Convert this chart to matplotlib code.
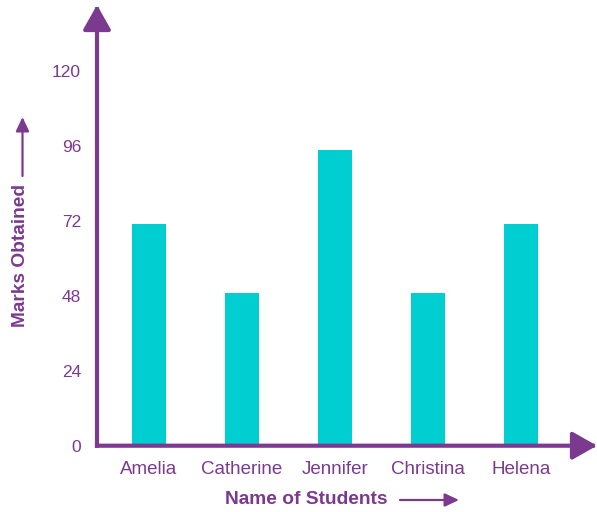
import matplotlib
matplotlib.use('Agg')
from matplotlib import pyplot as plt

students = ['Amelia', 'Catherine', 'Jennifer', 'Christina', 'Helena']
marks = [71, 49, 94.5, 49, 71]
yticks = [0, 24, 48, 72, 96, 120]

purple = '#7B3A90'
teal = '#00CED1'

plt.rcParams['font.family'] = ['Liberation Sans', 'DejaVu Sans']

W, H = 597, 512
ox, oy = 97, 445.7          # origin of the axes in pixels
px_per_unit = 75 / 24       # y scale
px_per_bar = 93.1           # x spacing between bars
first_bar = 148.7

fig = plt.figure(figsize=(W / 100, H / 100), dpi=100)
ax = fig.add_axes([ox / W, (H - oy) / H, (W - ox) / W, (oy - 5) / H])

xs = list(range(len(students)))
ax.bar(xs, marks, width=34 / px_per_bar, color=teal, zorder=2)

left = -(first_bar - ox) / px_per_bar
ax.set_xlim(left, left + (W - ox) / px_per_bar)
ax.set_ylim(0, (oy - 5) / px_per_unit)

for s in ax.spines.values():
    s.set_visible(False)

ax.set_xticks(xs)
ax.set_xticklabels(students, fontsize=13.5, color=purple)
ax.set_yticks(yticks)
ax.set_yticklabels([str(v) for v in yticks], fontsize=12.5, color=purple)
ax.tick_params(axis='x', length=0, pad=11)
ax.tick_params(axis='y', length=0, pad=11.5)

# axis arrows
arrow_kw = dict(arrowstyle='-|>,head_length=15,head_width=8.5', mutation_scale=1,
                lw=3, color=purple, shrinkA=0, shrinkB=0, capstyle='projecting')
ax.annotate('', xy=(0, 1), xytext=(0, 0), xycoords='axes fraction',
            textcoords='axes fraction', arrowprops=arrow_kw, annotation_clip=False)
ax.annotate('', xy=(1, 0), xytext=(0, 0), xycoords='axes fraction',
            textcoords='axes fraction', arrowprops=arrow_kw, annotation_clip=False)

# axis titles with small arrows
fig.text(306.5 / W, 1 - 500 / H, 'Name of Students', fontsize=13.8, fontweight='bold',
         color=purple, ha='center', va='center')
small_kw = dict(arrowstyle='-|>,head_length=8.5,head_width=4', mutation_scale=1,
                lw=1.6, color=purple, shrinkA=0, shrinkB=0)
fig.add_artist(matplotlib.patches.FancyArrowPatch(
    (400 / W, 1 - 500 / H), (459 / W, 1 - 500 / H), transform=fig.transFigure, **small_kw))

fig.text(21 / W, 1 - 255.5 / H, 'Marks Obtained', fontsize=13.8, fontweight='bold',
         color=purple, ha='center', va='center', rotation=90)
fig.add_artist(matplotlib.patches.FancyArrowPatch(
    (22.5 / W, 1 - 176 / H), (22.5 / W, 1 - 117 / H), transform=fig.transFigure, **small_kw))

fig.savefig('out.png', dpi=100)
